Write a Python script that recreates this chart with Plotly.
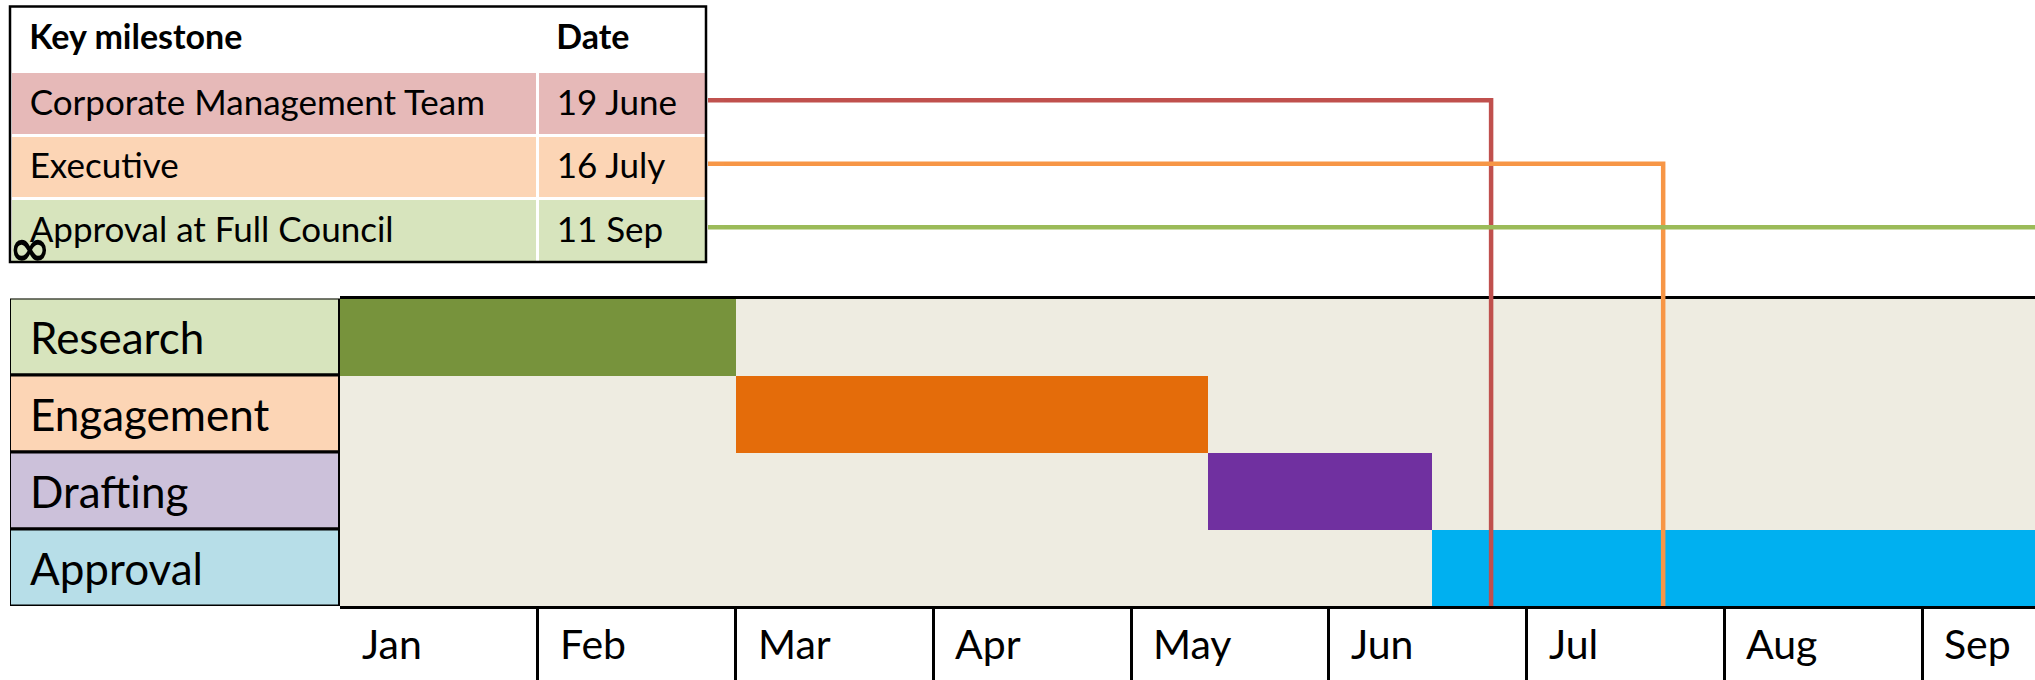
import plotly.graph_objects as go

# ---------------- data ----------------
tasks = ["Research", "Engagement", "Drafting", "Approval"]
task_start = [0.0, 2.0, 4.39, 5.52]   # in months from 1 Jan
task_end = [2.0, 4.39, 5.52, 9.0]
months = ["Jan", "Feb", "Mar", "Apr", "May", "Jun", "Jul", "Aug", "Sep"]
milestones = ["Corporate Management Team", "Executive", "Approval at Full Council"]
milestone_dates = ["19 June", "16 July", "11 Sep"]
milestone_pos = [5.82, 6.69, 8.9]     # position on the month axis
table_header = ["Key milestone", "Date"]

# ---------------- styles ----------------
W, H = 2035, 680
FONT = "Lato, 'Open Sans', sans-serif"
task_colors = ["#77933C", "#E46C0A", "#7030A0", "#00B0F0"]
label_fills = ["#D7E4BD", "#FCD5B5", "#CCC1DA", "#B7DEE8"]
ms_fills = ["#E6B9B8", "#FCD5B5", "#D7E4BD"]
ms_lines = ["#C0504D", "#F79646", "#9BBB59"]
BEIGE = "#EEECE1"
SP = "\u2004"   # small leading space used as cell padding

# layout in pixels
TBL_L, TBL_R, TBL_T = 10, 706, 6.5
COL1_W = 527
COL2_W = TBL_R - TBL_L - COL1_W
HDR_H, ROW_H = 65, 63.5
TBL_B = TBL_T + HDR_H + ROW_H * len(milestones)
G_L, G_M, G_T, G_B = 10, 340, 298.5, 606
X_MAX = 8.57
MONTH_PX = (W - G_M) / X_MAX
LINE_DY = -3   # connector lines sit slightly above the row centre


def px(x):
    return x / W


def py(y):
    return 1 - y / H


def cell(t, tag="span"):
    return f"<{tag}>{SP}{t}</{tag}>"


fig = go.Figure()

# milestone table
fig.add_trace(go.Table(
    domain=dict(x=[px(TBL_L), px(TBL_R)], y=[py(TBL_B), py(TBL_T)]),
    columnwidth=[COL1_W, COL2_W],
    header=dict(values=[cell(h, "b") for h in table_header], fill_color="white",
                line=dict(color="white", width=3), align="left",
                font=dict(family=FONT, size=34, color="black"), height=HDR_H),
    cells=dict(values=[[cell(t) for t in milestones], [cell(t) for t in milestone_dates]],
               fill_color=[ms_fills, ms_fills],
               line=dict(color="white", width=3), align="left",
               font=dict(family=FONT, size=35, color="black"), height=ROW_H),
))

# gantt bars
fig.add_trace(go.Bar(
    y=tasks, x=[e - s for s, e in zip(task_start, task_end)], base=task_start,
    orientation="h", width=1, marker=dict(color=task_colors, line=dict(width=0)),
    xaxis="x", yaxis="y", hoverinfo="skip", showlegend=False,
))

# label column cells
fig.add_trace(go.Bar(
    y=tasks, x=[1] * len(tasks), orientation="h", width=1, cliponaxis=False,
    marker=dict(color=label_fills, line=dict(color="black", width=3)),
    xaxis="x2", yaxis="y", hoverinfo="skip", showlegend=False,
))

# milestone connector lines
x_start = (TBL_R - G_M) / MONTH_PX
for i, (name, pos) in enumerate(zip(milestones, milestone_pos)):
    y_row = TBL_T + HDR_H + ROW_H * (i + 0.5) + LINE_DY
    fig.add_trace(go.Scatter(
        x=[x_start, pos, pos], y=[y_row, y_row, G_B], mode="lines",
        line=dict(color=ms_lines[i], width=4.5), xaxis="x", yaxis="y4",
        hoverinfo="skip", showlegend=False, name=name,
    ))

# dummy trace for month row
fig.add_trace(go.Scatter(x=[0], y=[0], mode="markers", marker=dict(opacity=0),
                         xaxis="x3", yaxis="y3", hoverinfo="skip", showlegend=False))

annotations = []
for t in tasks:
    annotations.append(dict(xref="x2", yref="y", x=0, y=t, text=t, xanchor="left",
                            xshift=18, showarrow=False,
                            font=dict(family=FONT, size=44, color="black")))
for i, m in enumerate(months):
    annotations.append(dict(xref="x3", yref="y3", x=i, y=0.5, text=m, xanchor="left",
                            xshift=20, showarrow=False,
                            font=dict(family=FONT, size=41, color="black")))
annotations.append(dict(xref="paper", yref="paper", x=px(30), y=py(248), text="<b>∞</b>",
                        xanchor="center", yanchor="middle", showarrow=False,
                        font=dict(family="DejaVu Sans", size=50, color="black")))

shapes = [
    dict(type="rect", xref="x domain", yref="y domain", x0=0, x1=1, y0=0, y1=1,
         fillcolor=BEIGE, line=dict(width=0), layer="below"),
    dict(type="rect", xref="paper", yref="paper", x0=px(TBL_L), x1=px(TBL_R),
         y0=py(TBL_B), y1=py(TBL_T), line=dict(color="black", width=2.5)),
]

fig.update_layout(
    width=W, height=H, margin=dict(l=0, r=0, t=0, b=0),
    paper_bgcolor="white", plot_bgcolor="rgba(0,0,0,0)", showlegend=False,
    font=dict(family=FONT),
    bargap=0,
    xaxis=dict(domain=[px(G_M), 1], range=[0, X_MAX], anchor="y", showticklabels=False,
               showgrid=False, zeroline=False, showline=True, mirror=True,
               linecolor="black", linewidth=3, ticks=""),
    yaxis=dict(domain=[py(G_B), py(G_T)], anchor="x", categoryorder="array",
               categoryarray=tasks, range=[len(tasks) - 0.5, -0.5], showticklabels=False,
               showgrid=False, zeroline=False, showline=False),
    xaxis2=dict(domain=[px(G_L), px(G_M)], range=[0, 1], anchor="y", visible=False),
    xaxis3=dict(domain=[px(G_M), 1], matches="x", anchor="y3", showticklabels=False,
                tickvals=list(range(len(months))), showgrid=True, gridcolor="black",
                gridwidth=3, zeroline=False, showline=False, ticks=""),
    yaxis3=dict(domain=[0, py(G_B)], range=[0, 1], anchor="x3", visible=False),
    yaxis4=dict(domain=[0, 1], range=[H, 0], anchor="x", visible=False),
    annotations=annotations,
    shapes=shapes,
)

fig.write_html("out.html", config={"displayModeBar": False},
               post_script="document.body.style.margin='0';document.body.style.overflow='hidden';")
